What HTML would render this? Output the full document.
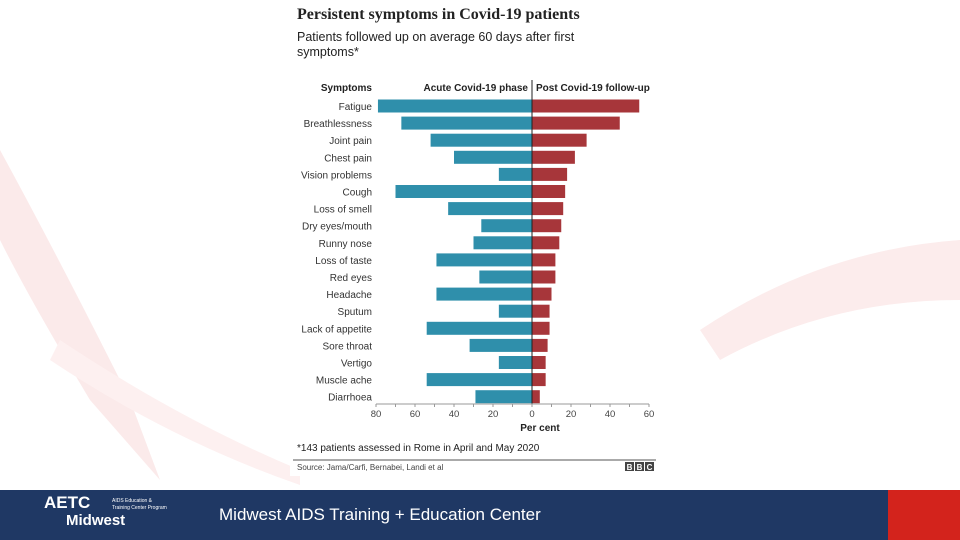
<!DOCTYPE html>
<html><head><meta charset="utf-8"><style>
body{margin:0;width:960px;height:540px;overflow:hidden;background:#fff;font-family:"Liberation Sans",sans-serif;position:relative}
.sw{position:absolute}
</style></head><body>
<svg class="sw" width="960" height="540" style="left:0;top:0">
<path d="M0,150 Q60,260 130,400 L160,480 L90,400 Q30,300 0,240Z" fill="#fbeaea"/>
<path d="M700,330 Q820,250 960,240 L960,300 Q830,300 720,360Z" fill="#fcecec"/>
<path d="M60,340 Q180,420 300,470 L300,485 Q170,440 50,360Z" fill="#fdf0f0"/>
</svg>
<svg id="chart" class="sw" style="left:0;top:0" width="960" height="540"></svg>
<div style="position:absolute;left:0;top:490px;width:960px;height:50px;background:#1f3864">
 <div style="position:absolute;left:44px;top:4px;color:#fff;font-weight:bold;font-size:17px;line-height:17px">AETC<br><span style="font-size:15px;padding-left:22px">Midwest</span></div>
 <div style="position:absolute;left:112px;top:8px;color:#fff;font-size:5px;line-height:7px">AIDS Education &amp;<br>Training Center Program</div>
 <div style="position:absolute;left:219px;top:15px;color:#fff;font-size:17px">Midwest AIDS Training + Education Center</div>
 <div style="position:absolute;left:888px;top:0;width:72px;height:50px;background:#d3231c"></div>
</div>
<script>
const symptoms=["Fatigue","Breathlessness","Joint pain","Chest pain","Vision problems","Cough","Loss of smell","Dry eyes/mouth","Runny nose","Loss of taste","Red eyes","Headache","Sputum","Lack of appetite","Sore throat","Vertigo","Muscle ache","Diarrhoea"];
const acute=[79,67,52,40,17,70,43,26,30,49,27,49,17,54,32,17,54,29];
const post=[55,45,28,22,18,17,16,15,14,12,12,10,9,9,8,7,7,4];
const ticks=[80,60,40,20,0,20,40,60];
const NS="http://www.w3.org/2000/svg";
const svg=document.getElementById('chart');
const x0=532,k=1.95;
const xs=v=>x0+v*k;
const yRow=i=>106+i*17.1;
function el(t,a,txt){const e=document.createElementNS(NS,t);for(const n in a)e.setAttribute(n,a[n]);if(txt!==undefined)e.textContent=txt;svg.appendChild(e);return e;}
let e;
e=el('rect',{x:290,y:0,width:370,height:476,fill:'#fff'});

e=el('text',{x:297,y:19,'font-size':16,'font-weight':'bold','font-family':'Liberation Serif, serif',fill:'#222'},'Persistent symptoms in Covid-19 patients');

e=el('text',{x:297,y:41,'font-size':12.5,fill:'#222'},'Patients followed up on average 60 days after first');

e=el('text',{x:297,y:56,'font-size':12.5,fill:'#222'},'symptoms*');

e=el('text',{x:372,y:91,'font-size':10,'font-weight':'bold','text-anchor':'end',fill:'#222'},'Symptoms');

e=el('text',{x:528,y:91,'font-size':10,'font-weight':'bold','text-anchor':'end',fill:'#222'},'Acute Covid-19 phase');

e=el('text',{x:536,y:91,'font-size':10,'font-weight':'bold',fill:'#222'},'Post Covid-19 follow-up');

symptoms.forEach((s,i)=>{
 const y=yRow(i);
 e=el('text',{x:372,y:y+4,'font-size':10,'text-anchor':'end',fill:'#333'},s);
 
 e=el('rect',{x:xs(-acute[i]),y:y-6.5,width:acute[i]*k,height:13,fill:'#2f8fab'});
 
 e=el('rect',{x:x0,y:y-6.5,width:post[i]*k,height:13,fill:'#a7363a'});
 
});
e=el('line',{x1:x0,y1:80,x2:x0,y2:404,stroke:'#222','stroke-width':1});

e=el('line',{x1:xs(-80),y1:404,x2:xs(60),y2:404,stroke:'#999','stroke-width':1});

for(let v=-80;v<=60;v+=10){
 e=el('line',{x1:xs(v),y1:404,x2:xs(v),y2:407,stroke:'#999'});
 
}
ticks.forEach((t,i)=>{
 const v=i<4?-t:t;
 e=el('text',{x:xs(v),y:417,'font-size':9.5,'text-anchor':'middle',fill:'#444'},t);
 
});
e=el('text',{x:x0+8,y:431,'font-size':10,'font-weight':'bold','text-anchor':'middle',fill:'#222'},'Per cent');

e=el('text',{x:297,y:451,'font-size':10,fill:'#222'},'*143 patients assessed in Rome in April and May 2020');

e=el('line',{x1:293,y1:460,x2:656,y2:460,stroke:'#555'});

e=el('text',{x:297,y:470,'font-size':8,fill:'#444'},'Source: Jama/Carfi, Bernabei, Landi et al');

['B','B','C'].forEach((c,i)=>{
 e=el('rect',{x:625+i*10,y:462,width:9,height:9,fill:'#444'});
 
 e=el('text',{x:629.5+i*10,y:470,'font-size':8,'font-weight':'bold','text-anchor':'middle',fill:'#fff'},c);
 
});
</script>
</body></html>
